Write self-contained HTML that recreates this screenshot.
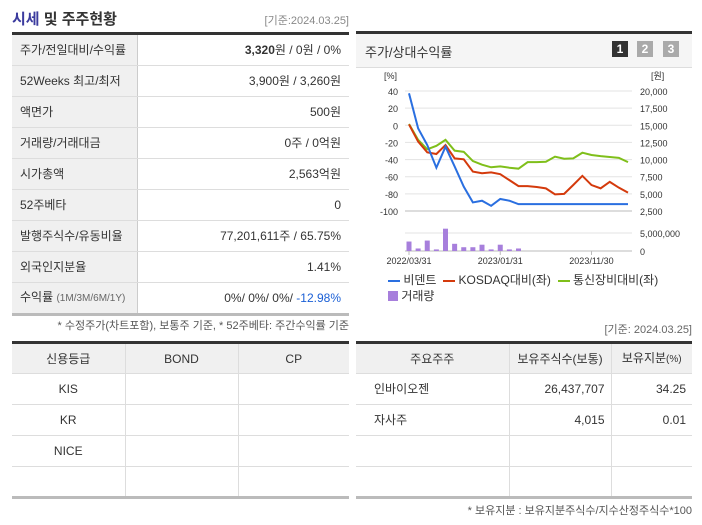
<!DOCTYPE html>
<html><head><meta charset="utf-8"><style>
body{margin:0;width:702px;height:525px;background:#fff;font-family:"Liberation Sans","Noto Sans CJK KR",sans-serif;color:#333;position:relative;overflow:hidden}
.abs{position:absolute}
table{border-collapse:collapse;position:absolute;font-size:12px;table-layout:fixed}
.lt td{height:30px;border-bottom:1px solid #ddd;padding:0 8px;line-height:14px}
.lt td.l{background:#f0f0f0;border-right:1px solid #ccc;width:109px}
.lt td.r{text-align:right}
.bt td,.bt th{border-bottom:1px solid #ddd;border-right:1px solid #ddd;height:31px;padding:0;line-height:14px;font-weight:normal;text-align:center;font-size:12px;box-sizing:border-box}
.bt th{background:#f0f0f0}
.bt td:last-child,.bt th:last-child{border-right:none}
</style></head><body>
<div class="abs" style="left:12px;top:8px;font-size:15px;font-weight:bold"><span style="color:#3b3b9e">시세</span> 및 주주현황</div>
<div class="abs" style="right:353px;top:12px;font-size:11px;color:#888">[기준:2024.03.25]</div>
<table class="lt" style="left:12px;top:32px;width:337px;border-top:3px solid #333;border-bottom:3px solid #bbb">
<tr><td class="l">주가/전일대비/수익률</td><td class="r"><b>3,320</b>원 / 0원 / 0%</td></tr>
<tr><td class="l">52Weeks 최고/최저</td><td class="r">3,900원 / 3,260원</td></tr>
<tr><td class="l">액면가</td><td class="r">500원</td></tr>
<tr><td class="l">거래량/거래대금</td><td class="r">0주 / 0억원</td></tr>
<tr><td class="l">시가총액</td><td class="r">2,563억원</td></tr>
<tr><td class="l">52주베타</td><td class="r">0</td></tr>
<tr><td class="l">발행주식수/유동비율</td><td class="r">77,201,611주 / 65.75%</td></tr>
<tr><td class="l">외국인지분율</td><td class="r">1.41%</td></tr>
<tr><td class="l">수익률 <span style="font-size:10px;color:#666">(1M/3M/6M/1Y)</span></td><td class="r">0%/ 0%/ 0%/ <span style="color:#1a5fd6">-12.98%</span></td></tr>
</table>
<div class="abs" style="right:353px;top:317px;font-size:11px;color:#555">* 수정주가(차트포함), 보통주 기준, * 52주베타: 주간수익률 기준</div>

<div class="abs" style="left:356px;top:31px;width:336px;height:33px;border-top:3px solid #333;background:#f5f5f5;border-bottom:1px solid #ddd">
<div class="abs" style="left:9px;top:8px;font-size:13px">주가/상대수익률</div>
<div class="abs" style="left:256px;top:7px;width:16px;height:16px;background:#333;color:#fff;font-size:12px;font-weight:bold;text-align:center;line-height:16px">1</div>
<div class="abs" style="left:281px;top:7px;width:16px;height:16px;background:#aaa;color:#fff;font-size:12px;font-weight:bold;text-align:center;line-height:16px">2</div>
<div class="abs" style="left:307px;top:7px;width:16px;height:16px;background:#aaa;color:#fff;font-size:12px;font-weight:bold;text-align:center;line-height:16px">3</div>
</div>
<svg class="abs" style="left:0;top:0" width="702" height="525" id="chart"></svg>

<div class="abs" style="left:388px;top:272px;font-size:12px;line-height:16px;width:300px">
<span><span style="display:inline-block;width:12px;height:2px;background:#2a6fe0;vertical-align:middle"></span> 비덴트</span>&nbsp;
<span><span style="display:inline-block;width:12px;height:2px;background:#d43a0c;vertical-align:middle"></span> KOSDAQ대비(좌)</span>&nbsp;
<span><span style="display:inline-block;width:12px;height:2px;background:#7fbf1a;vertical-align:middle"></span> 통신장비대비(좌)</span><br>
<span><span style="display:inline-block;width:10px;height:10px;background:#a77fdc;vertical-align:-1px"></span> 거래량</span>
</div>

<div class="abs" style="right:10px;top:321px;font-size:11px;color:#666">[기준: 2024.03.25]</div>
<table class="bt" style="left:12px;top:341px;width:337px;border-top:3px solid #333;border-bottom:3px solid #bbb">
<tr><th style="width:113px">신용등급</th><th style="width:113px">BOND</th><th>CP</th></tr>
<tr><td>KIS</td><td></td><td></td></tr>
<tr><td>KR</td><td></td><td></td></tr>
<tr><td>NICE</td><td></td><td></td></tr>
<tr><td></td><td></td><td></td></tr>
</table>
<table class="bt" style="left:356px;top:341px;width:336px;border-top:3px solid #333;border-bottom:3px solid #bbb">
<tr><th style="width:153px">주요주주</th><th style="width:102px">보유주식수(보통)</th><th>보유지분<span style="font-size:10px">(%)</span></th></tr>
<tr><td style="text-align:left;padding-left:18px">인바이오젠</td><td style="text-align:right;padding-right:6px">26,437,707</td><td style="text-align:right;padding-right:6px">34.25</td></tr>
<tr><td style="text-align:left;padding-left:18px">자사주</td><td style="text-align:right;padding-right:6px">4,015</td><td style="text-align:right;padding-right:6px">0.01</td></tr>
<tr><td></td><td></td><td></td></tr>
<tr><td></td><td></td><td></td></tr>
</table>
<div class="abs" style="right:10px;top:502px;font-size:11px;color:#555">* 보유지분 : 보유지분주식수/지수산정주식수*100</div>

<script>
const vident=[37.3,-3.6,-23,-49.5,-25,-48,-71.6,-90,-88,-94,-86,-88,-92,-92,-92,-92,-92,-92,-92,-92,-92,-92,-92,-92,-92];
const kosdaq=[1,-19,-31.6,-33.5,-23,-38.6,-39.7,-54,-56,-55,-57,-64,-71,-71,-72,-73.6,-80.6,-80,-69.7,-59,-69.7,-73.6,-66,-72.8,-78.6];
const sector=[1.5,-17,-28,-24,-17,-29.6,-31,-41.7,-46,-49,-48,-49.5,-50.6,-43,-43,-42.5,-36.6,-39,-38.6,-32,-34.7,-36,-37,-38,-43];
const volume=[2630000,700000,2900000,440000,6200000,2000000,1050000,1050000,1750000,440000,1750000,440000,700000];
const leftTicks=[40,20,0,-20,-40,-60,-80,-100];
const rightTicks=["20,000","17,500","15,000","12,500","10,000","7,500","5,000","2,500"];
const xLabels=[{i:0,t:"2022/03/31"},{i:10,t:"2023/01/31"},{i:20,t:"2023/11/30"}];
const svg=document.getElementById('chart');const NS="http://www.w3.org/2000/svg";
const X0=405,X1=632,D0=409,D1=628;
const x=i=>D0+i*(D1-D0)/24;
const y=v=>91+(40-v)/140*120;
const vy=v=>251-v/5000000*18;
function mk(t,a,txt){const e=document.createElementNS(NS,t);for(const k in a)e.setAttribute(k,a[k]);if(txt!==undefined)e.textContent=txt;svg.appendChild(e);return e;}
leftTicks.forEach((v,k)=>{
 let g=mk('line',{x1:X0,x2:X1,y1:y(v),y2:y(v),stroke:k==7?'#bbb':'#e3e3e3','stroke-width':1});
 
 let t=mk('text',{x:398,y:y(v)+4,'text-anchor':'end','font-size':9,fill:'#333'},v);
 
 let r=mk('text',{x:640,y:y(v)+4,'font-size':9,fill:'#333'},rightTicks[k]);
 
});
let u1=mk('text',{x:384,y:79,'font-size':9,fill:'#333'},'[%]');
let u2=mk('text',{x:651,y:79,'font-size':9,fill:'#333'},'[원]');
[[5000000,"5,000,000"],[0,"0"]].forEach(([v,t])=>{
 let g=mk('line',{x1:X0,x2:X1,y1:vy(v),y2:vy(v),stroke:v?'#e3e3e3':'#bbb'});
 
 let tt=mk('text',{x:640,y:vy(v)+4,'font-size':9,fill:'#333'},t);
 
});
volume.forEach((v,i)=>{let b=mk('rect',{x:x(i)-2.5,y:vy(v),width:5,height:251-vy(v),fill:'#a77fdc'});
 });
xLabels.forEach(o=>{let l=mk('line',{x1:x(o.i),x2:x(o.i),y1:251,y2:255,stroke:'#bbb'});
 
 let t=mk('text',{x:x(o.i),y:264,'text-anchor':'middle','font-size':9,fill:'#333'},o.t);
 });
[[sector,'#7fbf1a','line-sector'],[kosdaq,'#d43a0c','line-kosdaq'],[vident,'#2a6fe0','line-vident']].forEach(([d,c,n])=>{
 let p=mk('polyline',{points:d.map((v,i)=>x(i)+','+y(v)).join(' '),fill:'none',stroke:c,'stroke-width':2});
 });
</script>
</body></html>
